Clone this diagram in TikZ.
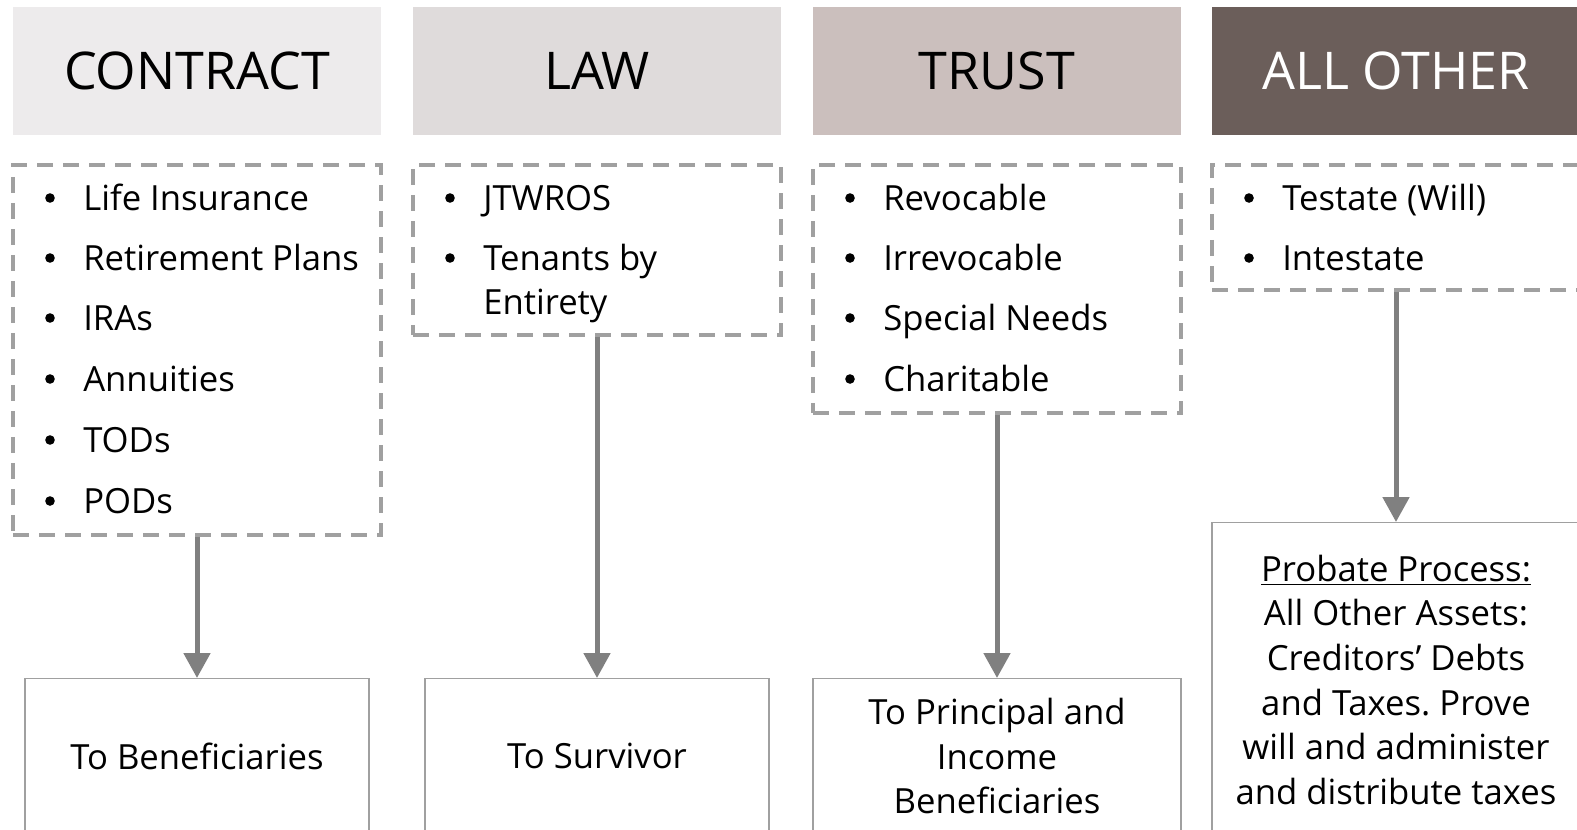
\documentclass[tikz,border=0pt]{standalone}
\usepackage{fontspec}
\setmainfont{Open Sans}
\usetikzlibrary{arrows.meta}
\frenchspacing

\definecolor{hdrA}{RGB}{237,235,236}
\definecolor{hdrB}{RGB}{223,219,219}
\definecolor{hdrC}{RGB}{203,191,189}
\definecolor{hdrD}{RGB}{107,94,90}
\definecolor{dashgray}{RGB}{160,160,160}
\definecolor{boxgray}{RGB}{160,160,160}
\definecolor{arrgray}{RGB}{128,128,128}

\begin{document}
\begin{tikzpicture}[x=0.75pt,y=-0.75pt,
  hdr/.style={rectangle, minimum width=276pt, minimum height=96pt, inner sep=0pt,
              font=\fontsize{39}{46}\selectfont},
  listbox/.style={rectangle, draw=dashgray, line width=2.7pt,
                  dash pattern=on 12pt off 7.5pt, minimum width=276pt,
                  inner sep=0pt, anchor=north},
  item/.style={anchor=base west, inner sep=0pt, font=\fontsize{26}{33.5}\selectfont},
  dot/.style={circle, fill=black, inner sep=0pt, minimum size=7.2pt},
  outbox/.style={rectangle, draw=boxgray, line width=1.1pt, anchor=north,
                 inner sep=0pt, align=center,
                 font=\fontsize{26}{33.4}\selectfont},
  flow/.style={draw=arrgray, line width=3.75pt,
               -{Triangle[width=19.5pt,length=18.75pt]}}
]
\clip (0,0) rectangle (1577,829);

% column headers
\node[hdr, fill=hdrA] (hContract) at (197,71) {CONTRACT};
\node[hdr, fill=hdrB] (hLaw) at (597,71) {LAW};
\node[hdr, fill=hdrC] (hTrust) at (997,71) {TRUST};
\node[hdr, fill=hdrD, text=white] (hOther) at (1396,71) {ALL OTHER};

% dashed lists
\node[listbox, minimum height=277.5pt] (lContract) at (197,163) {};
\node[listbox, minimum height=127.5pt] (lLaw) at (597,163) {};
\node[listbox, minimum height=186pt] (lTrust) at (997,163) {};
\node[listbox, minimum height=93.75pt] (lOther) at (1396,163) {};

% contract items
\node[dot] (cb1) at (50,198) {};  \node[item] (ci1) at (83,210) {Life Insurance};
\node[dot] (cb2) at (50,258) {};  \node[item] (ci2) at (83,270) {Retirement Plans};
\node[dot] (cb3) at (50,318) {};  \node[item] (ci3) at (83,330) {IRAs};
\node[dot] (cb4) at (50,379) {};  \node[item] (ci4) at (83,391) {Annuities};
\node[dot] (cb5) at (50,440) {};  \node[item] (ci5) at (83,452) {TODs};
\node[dot] (cb6) at (50,501) {};  \node[item] (ci6) at (83,513) {PODs};

% law items
\node[dot] (lb1) at (450,198) {};  \node[item] (li1) at (483,210) {JTWROS};
\node[dot] (lb2) at (450,258) {};  \node[item] (li2) at (483,270) {Tenants by};
\node[item] (li3) at (483,314) {Entirety};

% trust items
\node[dot] (tb1) at (850,198) {};  \node[item] (ti1) at (883,210) {Revocable};
\node[dot] (tb2) at (850,258) {};  \node[item] (ti2) at (883,270) {Irrevocable};
\node[dot] (tb3) at (850,318) {};  \node[item] (ti3) at (883,330) {Special Needs};
\node[dot] (tb4) at (850,379) {};  \node[item] (ti4) at (883,391) {Charitable};

% all other items
\node[dot] (ob1) at (1249,198) {};  \node[item] (oi1) at (1282,210) {Testate (Will)};
\node[dot] (ob2) at (1249,258) {};  \node[item] (oi2) at (1282,270) {Intestate};

% outcome boxes
\node[outbox, minimum width=258pt, minimum height=116.25pt] (oContract) at (197,678) {To Beneficiaries};
\node[outbox, minimum width=258pt, minimum height=116.25pt] (oLaw) at (597,678) {To Survivor};
\node[outbox, minimum width=276pt, minimum height=116.25pt] (oTrust) at (997,678) {To Principal and\\Income\\Beneficiaries};
\node[outbox, minimum width=276pt, minimum height=235.5pt] (oOther) at (1396,522)
  {\underline{Probate Process:}\\All Other Assets:\\Creditors’ Debts\\and Taxes. Prove\\will and administer\\and distribute taxes};

% connectors
\draw[flow] (lContract.south) -- (oContract.north);
\draw[flow] (lLaw.south) -- (oLaw.north);
\draw[flow] (lTrust.south) -- (oTrust.north);
\draw[flow] (lOther.south) -- (oOther.north);
\end{tikzpicture}
\end{document}
